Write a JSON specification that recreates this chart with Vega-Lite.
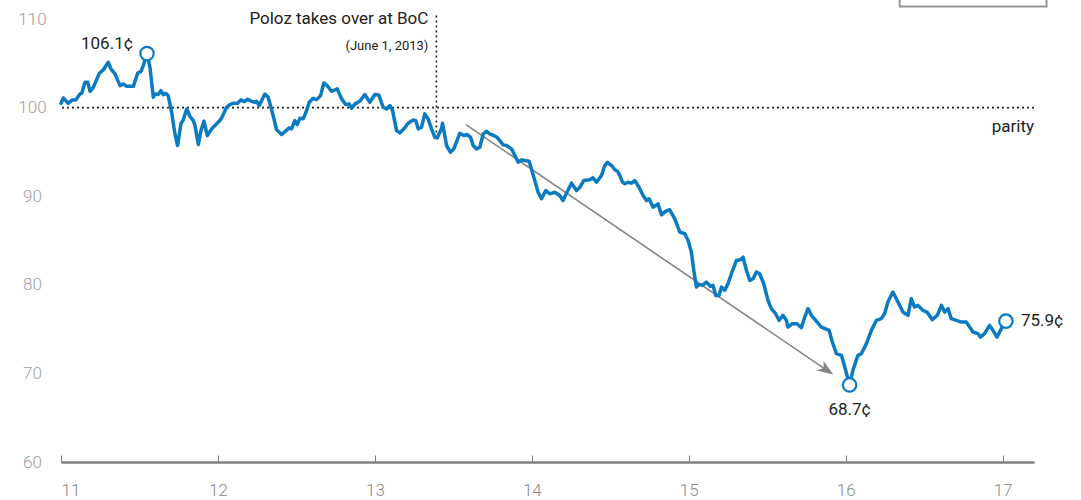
{
  "$schema": "https://vega.github.io/schema/vega-lite/v6.json",
  "autosize": "none",
  "width": 973,
  "height": 443,
  "padding": {"left": 61, "top": 19, "right": 47, "bottom": 38},
  "background": "white",
  "config": {"view": {"stroke": null}, "font": "Roboto"},
  "datasets": {
    "cad": [
      {"t":11.000,"v":100.48},{"t":11.015,"v":101.09},{"t":11.046,"v":100.48},{"t":11.072,"v":100.87},{"t":11.094,"v":100.87},{"t":11.121,"v":101.54},{"t":11.132,"v":101.61},{"t":11.153,"v":102.85},{"t":11.170,"v":102.85},{"t":11.185,"v":101.84},{"t":11.206,"v":102.29},{"t":11.244,"v":103.87},{"t":11.269,"v":104.25},{"t":11.301,"v":105.11},{"t":11.318,"v":104.36},{"t":11.344,"v":103.80},{"t":11.376,"v":102.48},{"t":11.397,"v":102.67},{"t":11.418,"v":102.40},{"t":11.461,"v":102.40},{"t":11.489,"v":103.91},{"t":11.510,"v":104.09},{"t":11.524,"v":104.74},{"t":11.548,"v":106.1},{"t":11.567,"v":104.54},{"t":11.588,"v":101.16},{"t":11.599,"v":101.54},{"t":11.620,"v":101.47},{"t":11.637,"v":101.92},{"t":11.652,"v":101.47},{"t":11.669,"v":101.61},{"t":11.683,"v":101.35},{"t":11.705,"v":99.47},{"t":11.726,"v":97.03},{"t":11.743,"v":95.72},{"t":11.764,"v":98.16},{"t":11.779,"v":98.61},{"t":11.801,"v":99.85},{"t":11.822,"v":98.99},{"t":11.843,"v":98.53},{"t":11.854,"v":97.97},{"t":11.875,"v":95.83},{"t":11.892,"v":97.41},{"t":11.911,"v":98.46},{"t":11.932,"v":96.84},{"t":11.960,"v":97.60},{"t":11.981,"v":97.97},{"t":12.002,"v":98.34},{"t":12.024,"v":98.84},{"t":12.055,"v":100.03},{"t":12.076,"v":100.34},{"t":12.097,"v":100.48},{"t":12.125,"v":100.48},{"t":12.146,"v":100.87},{"t":12.168,"v":100.68},{"t":12.189,"v":100.94},{"t":12.215,"v":100.71},{"t":12.236,"v":100.60},{"t":12.247,"v":100.71},{"t":12.263,"v":100.23},{"t":12.299,"v":101.54},{"t":12.320,"v":101.16},{"t":12.348,"v":99.36},{"t":12.374,"v":97.49},{"t":12.406,"v":96.96},{"t":12.427,"v":97.29},{"t":12.454,"v":97.71},{"t":12.469,"v":97.60},{"t":12.490,"v":98.53},{"t":12.505,"v":98.08},{"t":12.522,"v":98.79},{"t":12.543,"v":98.73},{"t":12.561,"v":99.47},{"t":12.582,"v":100.60},{"t":12.607,"v":101.05},{"t":12.629,"v":100.90},{"t":12.654,"v":101.35},{"t":12.675,"v":102.78},{"t":12.696,"v":102.48},{"t":12.724,"v":101.84},{"t":12.760,"v":102.11},{"t":12.788,"v":100.98},{"t":12.815,"v":100.34},{"t":12.836,"v":100.42},{"t":12.852,"v":99.92},{"t":12.873,"v":100.42},{"t":12.904,"v":100.71},{"t":12.936,"v":101.47},{"t":12.968,"v":100.60},{"t":13.000,"v":101.47},{"t":13.025,"v":101.43},{"t":13.053,"v":100.03},{"t":13.075,"v":99.85},{"t":13.096,"v":100.23},{"t":13.113,"v":99.66},{"t":13.138,"v":97.41},{"t":13.159,"v":97.15},{"t":13.185,"v":97.60},{"t":13.212,"v":98.23},{"t":13.244,"v":98.61},{"t":13.261,"v":98.53},{"t":13.276,"v":97.60},{"t":13.297,"v":97.78},{"t":13.318,"v":99.29},{"t":13.339,"v":98.73},{"t":13.361,"v":97.60},{"t":13.382,"v":96.65},{"t":13.397,"v":96.58},{"t":13.425,"v":97.63},{"t":13.431,"v":98.23},{"t":13.457,"v":95.72},{"t":13.482,"v":94.96},{"t":13.503,"v":95.34},{"t":13.541,"v":97.10},{"t":13.567,"v":96.84},{"t":13.588,"v":96.96},{"t":13.610,"v":96.65},{"t":13.626,"v":95.72},{"t":13.648,"v":95.34},{"t":13.669,"v":95.52},{"t":13.690,"v":97.03},{"t":13.712,"v":97.33},{"t":13.732,"v":97.03},{"t":13.758,"v":96.84},{"t":13.779,"v":96.65},{"t":13.796,"v":96.28},{"t":13.817,"v":95.79},{"t":13.839,"v":95.72},{"t":13.871,"v":95.34},{"t":13.892,"v":94.59},{"t":13.913,"v":93.83},{"t":13.934,"v":94.10},{"t":13.955,"v":94.02},{"t":13.983,"v":93.95},{"t":14.019,"v":91.77},{"t":14.040,"v":90.45},{"t":14.062,"v":89.71},{"t":14.089,"v":90.64},{"t":14.115,"v":90.27},{"t":14.146,"v":90.45},{"t":14.178,"v":90.08},{"t":14.199,"v":89.52},{"t":14.221,"v":90.34},{"t":14.253,"v":91.47},{"t":14.285,"v":90.64},{"t":14.306,"v":91.01},{"t":14.331,"v":91.77},{"t":14.369,"v":91.85},{"t":14.390,"v":92.07},{"t":14.412,"v":91.58},{"t":14.444,"v":92.33},{"t":14.465,"v":93.46},{"t":14.482,"v":93.83},{"t":14.508,"v":93.46},{"t":14.529,"v":92.98},{"t":14.546,"v":92.82},{"t":14.561,"v":92.33},{"t":14.578,"v":91.58},{"t":14.592,"v":91.40},{"t":14.613,"v":91.58},{"t":14.635,"v":91.47},{"t":14.656,"v":91.77},{"t":14.683,"v":91.01},{"t":14.709,"v":90.08},{"t":14.731,"v":89.52},{"t":14.747,"v":89.71},{"t":14.773,"v":88.76},{"t":14.804,"v":89.14},{"t":14.826,"v":87.90},{"t":14.854,"v":88.31},{"t":14.879,"v":88.47},{"t":14.911,"v":87.45},{"t":14.943,"v":85.94},{"t":14.975,"v":85.76},{"t":14.996,"v":85.01},{"t":15.017,"v":83.69},{"t":15.032,"v":81.62},{"t":15.049,"v":79.74},{"t":15.066,"v":80.05},{"t":15.087,"v":79.93},{"t":15.113,"v":80.30},{"t":15.138,"v":79.82},{"t":15.155,"v":79.93},{"t":15.172,"v":78.80},{"t":15.193,"v":78.80},{"t":15.208,"v":79.74},{"t":15.229,"v":79.37},{"t":15.250,"v":80.12},{"t":15.272,"v":81.25},{"t":15.304,"v":82.75},{"t":15.329,"v":82.83},{"t":15.346,"v":83.12},{"t":15.368,"v":81.62},{"t":15.389,"v":80.50},{"t":15.410,"v":80.69},{"t":15.431,"v":81.43},{"t":15.452,"v":81.25},{"t":15.478,"v":80.12},{"t":15.505,"v":78.24},{"t":15.527,"v":77.29},{"t":15.554,"v":76.74},{"t":15.575,"v":75.99},{"t":15.601,"v":76.55},{"t":15.622,"v":75.99},{"t":15.632,"v":75.23},{"t":15.661,"v":75.61},{"t":15.690,"v":75.61},{"t":15.718,"v":75.16},{"t":15.739,"v":76.36},{"t":15.760,"v":77.31},{"t":15.782,"v":76.55},{"t":15.809,"v":75.99},{"t":15.845,"v":75.23},{"t":15.894,"v":74.86},{"t":15.915,"v":73.54},{"t":15.941,"v":72.23},{"t":15.973,"v":72.04},{"t":15.994,"v":70.72},{"t":16.025,"v":68.7},{"t":16.046,"v":70.35},{"t":16.078,"v":72.04},{"t":16.100,"v":72.23},{"t":16.132,"v":73.36},{"t":16.164,"v":74.86},{"t":16.196,"v":75.99},{"t":16.227,"v":76.18},{"t":16.248,"v":76.74},{"t":16.269,"v":78.05},{"t":16.301,"v":79.18},{"t":16.333,"v":78.05},{"t":16.365,"v":76.92},{"t":16.397,"v":76.55},{"t":16.418,"v":78.43},{"t":16.439,"v":77.49},{"t":16.461,"v":77.68},{"t":16.492,"v":77.11},{"t":16.518,"v":76.92},{"t":16.552,"v":76.07},{"t":16.584,"v":76.55},{"t":16.610,"v":77.68},{"t":16.631,"v":76.92},{"t":16.652,"v":77.31},{"t":16.673,"v":76.18},{"t":16.705,"v":75.99},{"t":16.737,"v":75.79},{"t":16.769,"v":75.79},{"t":16.790,"v":75.23},{"t":16.811,"v":74.67},{"t":16.843,"v":74.49},{"t":16.858,"v":74.10},{"t":16.885,"v":74.49},{"t":16.917,"v":75.42},{"t":16.938,"v":74.86},{"t":16.964,"v":74.10},{"t":16.992,"v":75.05},{"t":17.021,"v":75.9}
    ]
  },
  "layer": [
    {
      "data": {"values": [{"x1": 16.344, "x2": 17.28, "y1": 111.4, "y2": 113.0}]},
      "mark": {"type": "rect", "fill": "white", "stroke": "#98989c", "strokeWidth": 2, "clip": false},
      "encoding": {
        "x": {"field": "x1", "type": "quantitative", "scale": {"domain": [11, 17.2], "nice": false, "zero": false}, "axis": {"values": [11, 12, 13, 14, 15, 16, 17], "format": "d", "title": null, "grid": false, "domainColor": "#808080", "domainWidth": 2.5, "tickColor": "#808080", "tickWidth": 1, "tickSize": -7, "labelPadding": 35, "labelColor": "#8a8a8a", "labelFontSize": 17, "labelFont": "Roboto", "labelFontWeight": 300, "labelBaseline": "middle"}},
        "x2": {"field": "x2"},
        "y": {"field": "y1", "type": "quantitative", "scale": {"domain": [60, 110], "nice": false, "zero": false}, "axis": {"values": [60, 70, 80, 90, 100, 110], "title": null, "grid": false, "domain": false, "ticks": false, "labelAlign": "center", "labelBaseline": "middle", "labelPadding": 29, "labelColor": "#a0a0a0", "labelFontSize": 17, "labelFont": "Roboto", "labelFontWeight": 300}},
        "y2": {"field": "y2"}
      }
    },
    {
      "data": {"values": [{"v": 100}]},
      "mark": {"type": "rule", "color": "#222222", "strokeWidth": 1.6, "strokeDash": [2, 3]},
      "encoding": {"y": {"field": "v", "type": "quantitative"}}
    },
    {
      "data": {"values": [{"t": 13.392, "top": 110.4, "bottom": 97.2}]},
      "mark": {"type": "rule", "color": "#222222", "strokeWidth": 1.6, "strokeDash": [2, 3], "clip": false},
      "encoding": {"x": {"field": "t", "type": "quantitative"}, "y": {"field": "top", "type": "quantitative"}, "y2": {"field": "bottom"}}
    },
    {
      "data": {"values": [{"t1": 13.58, "v1": 98.08, "t2": 15.879, "v2": 70.37}]},
      "mark": {"type": "rule", "color": "#858585", "strokeWidth": 1.6},
      "encoding": {"x": {"field": "t1", "type": "quantitative"}, "y": {"field": "v1", "type": "quantitative"}, "x2": {"field": "t2"}, "y2": {"field": "v2"}}
    },
    {
      "data": {"values": [{"t": 15.879, "v": 70.37}]},
      "mark": {"type": "point", "shape": "M1,0L-1,-0.75L-0.45,0L-1,0.75Z", "filled": true, "color": "#858585", "opacity": 1, "size": 256, "angle": 34},
      "encoding": {"x": {"field": "t", "type": "quantitative"}, "y": {"field": "v", "type": "quantitative"}}
    },
    {
      "data": {"name": "cad"},
      "mark": {"type": "line", "color": "#0a7bc1", "strokeWidth": 3.5, "strokeJoin": "round", "strokeCap": "round"},
      "encoding": {"x": {"field": "t", "type": "quantitative"}, "y": {"field": "v", "type": "quantitative"}}
    },
    {
      "data": {"values": [{"t": 11.548, "v": 106.1}, {"t": 16.025, "v": 68.7}, {"t": 17.021, "v": 75.9}]},
      "mark": {"type": "point", "shape": "circle", "filled": true, "fill": "white", "stroke": "#0a7bc1", "strokeWidth": 2.2, "size": 180, "opacity": 1, "clip": false},
      "encoding": {"x": {"field": "t", "type": "quantitative"}, "y": {"field": "v", "type": "quantitative"}}
    },
    {
      "data": {"values": [{"t": 11.548, "v": 106.1, "label": "106.1¢"}]},
      "mark": {"type": "text", "align": "center", "baseline": "middle", "dx": -40, "dy": -10, "fontSize": 17, "color": "#222222"},
      "encoding": {"x": {"field": "t", "type": "quantitative"}, "y": {"field": "v", "type": "quantitative"}, "text": {"field": "label"}}
    },
    {
      "data": {"values": [{"t": 16.025, "v": 68.7, "label": "68.7¢"}]},
      "mark": {"type": "text", "align": "center", "baseline": "middle", "dy": 25, "fontSize": 17, "color": "#222222"},
      "encoding": {"x": {"field": "t", "type": "quantitative"}, "y": {"field": "v", "type": "quantitative"}, "text": {"field": "label"}}
    },
    {
      "data": {"values": [{"t": 17.021, "v": 75.9, "label": "75.9¢"}]},
      "mark": {"type": "text", "align": "left", "baseline": "middle", "dx": 15, "fontSize": 17, "color": "#222222"},
      "encoding": {"x": {"field": "t", "type": "quantitative"}, "y": {"field": "v", "type": "quantitative"}, "text": {"field": "label"}}
    },
    {
      "data": {"values": [{"t": 13.392, "v": 110.4, "label": "Poloz takes over at BoC"}]},
      "mark": {"type": "text", "align": "right", "baseline": "middle", "dx": -8, "dy": 4, "fontSize": 17, "color": "#222222"},
      "encoding": {"x": {"field": "t", "type": "quantitative"}, "y": {"field": "v", "type": "quantitative"}, "text": {"field": "label"}}
    },
    {
      "data": {"values": [{"t": 13.392, "v": 110.4, "label": "(June 1, 2013)"}]},
      "mark": {"type": "text", "align": "right", "baseline": "middle", "dx": -8, "dy": 31, "fontSize": 13, "color": "#222222"},
      "encoding": {"x": {"field": "t", "type": "quantitative"}, "y": {"field": "v", "type": "quantitative"}, "text": {"field": "label"}}
    },
    {
      "data": {"values": [{"t": 17.2, "v": 100, "label": "parity"}]},
      "mark": {"type": "text", "align": "right", "baseline": "alphabetic", "dx": 0, "dy": 24, "fontSize": 17, "color": "#222222"},
      "encoding": {"x": {"field": "t", "type": "quantitative"}, "y": {"field": "v", "type": "quantitative"}, "text": {"field": "label"}}
    }
  ]
}
